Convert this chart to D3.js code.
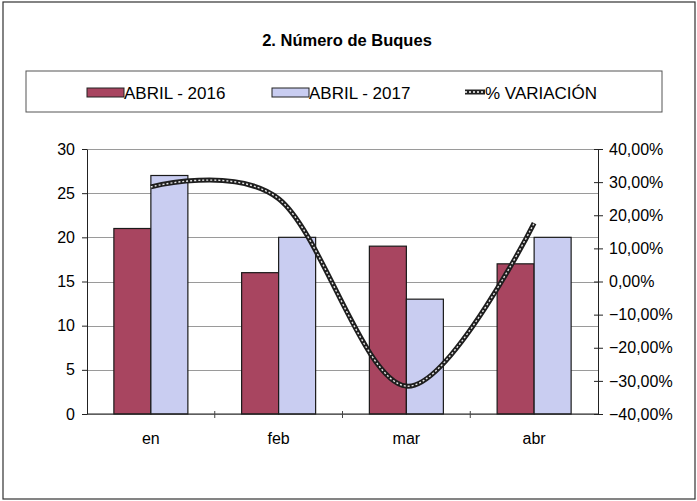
<!DOCTYPE html>
<html>
<head>
<meta charset="utf-8">
<style>
  body { margin: 0; background: #fff; }
  svg text { font-family: "Liberation Sans", Arial, sans-serif; fill: #000; }
  .grid line { stroke: #9a9a9a; shape-rendering: crispEdges; }
  .grid path { display: none; }
</style>
<script src="https://d3js.org/d3.v7.min.js"></script>
</head>
<body>
<script>
// data
var months = ["en", "feb", "mar", "abr"];
var abril2016 = [21, 16, 19, 17];
var abril2017 = [27, 20, 13, 20];
var variacion = [28.57, 25.00, -31.58, 17.65];
var leftTicks = [0, 5, 10, 15, 20, 25, 30];
var rightTicks = [-40, -30, -20, -10, 0, 10, 20, 30, 40];

var W = 697, H = 501;
var plot = {left: 87, right: 598, top: 149, bottom: 414};

var svg = d3.select("body").append("svg")
  .attr("width", W).attr("height", H);

// outer frame
svg.append("rect")
  .attr("x", 3).attr("y", 2).attr("width", 692).attr("height", 497)
  .attr("fill", "#fff").attr("stroke", "#333").attr("stroke-width", 1.2);

svg.append("text")
  .attr("x", 347).attr("y", 46)
  .attr("text-anchor", "middle")
  .style("font-size", "16.5px").style("font-weight", "bold")
  .text("2. Número de Buques");

// legend
var leg = svg.append("g");
leg.append("rect")
  .attr("x", 26).attr("y", 71).attr("width", 636).attr("height", 41)
  .attr("fill", "#fff").attr("stroke", "#555").attr("stroke-width", 1);

var legItems = [
  {label: "ABRIL - 2016", type: "bar", color: "#a84560", x: 87},
  {label: "ABRIL - 2017", type: "bar", color: "#c9cdf1", x: 272},
  {label: "% VARIACIÓN", type: "line", x: 465}
];
legItems.forEach(function(d) {
  if (d.type == "bar") {
    leg.append("rect")
      .attr("x", d.x).attr("y", 88).attr("width", 37).attr("height", 9)
      .attr("fill", d.color).attr("stroke", "#222").attr("stroke-width", 1);
  } else {
    leg.append("line").attr("x1", d.x).attr("x2", d.x + 20).attr("y1", 92).attr("y2", 92)
      .attr("stroke", "#222").attr("stroke-width", 5);
    leg.append("line").attr("x1", d.x).attr("x2", d.x + 20).attr("y1", 92).attr("y2", 92)
      .attr("stroke", "#fff").attr("stroke-width", 1.4).attr("stroke-dasharray", "2,2");
  }
  leg.append("text")
    .attr("x", d.x + (d.type == "bar" ? 37 : 20)).attr("y", 99)
    .style("font-size", "17px")
    .text(d.label);
});

// scales
var x = d3.scaleBand().domain(months).range([plot.left, plot.right]);
var y = d3.scaleLinear().domain([0, 30]).range([plot.bottom, plot.top]);
var y2 = d3.scaleLinear().domain([-40, 40]).range([plot.bottom, plot.top]);
var barW = 37;

// gridlines
svg.append("g").attr("class", "grid")
  .attr("transform", "translate(" + plot.left + ",0)")
  .call(d3.axisLeft(y).tickValues(leftTicks).tickSize(-(plot.right - plot.left)).tickFormat(""));

// bars
svg.append("g").selectAll("rect")
  .data(abril2016).enter().append("rect")
  .attr("x", function(d, i) { return x(months[i]) + x.bandwidth() / 2 - barW; })
  .attr("y", function(d) { return y(d); })
  .attr("width", barW)
  .attr("height", function(d) { return y(0) - y(d); })
  .attr("fill", "#a84560").attr("stroke", "#1a1a1a").attr("stroke-width", 1.2);

svg.append("g").selectAll("rect")
  .data(abril2017).enter().append("rect")
  .attr("x", function(d, i) { return x(months[i]) + x.bandwidth() / 2; })
  .attr("y", function(d) { return y(d); })
  .attr("width", barW)
  .attr("height", function(d) { return y(0) - y(d); })
  .attr("fill", "#c9cdf1").attr("stroke", "#1a1a1a").attr("stroke-width", 1.2);

// left axis
var ax = svg.append("g")
  .attr("transform", "translate(" + plot.left + ",0)")
  .call(d3.axisLeft(y).tickValues(leftTicks).tickSize(5).tickSizeOuter(0));
ax.selectAll("text").style("font-size", "16px").attr("x", -12);
ax.selectAll("line, path").attr("stroke", "#222");

// right axis
var ax2 = svg.append("g")
  .attr("transform", "translate(" + plot.right + ",0)")
  .call(d3.axisRight(y2).tickValues(rightTicks).tickSizeInner(5).tickSizeOuter(0)
    .tickFormat(function(d) { return d3.format(".2f")(d).replace(".", ",") + "%"; }));
ax2.selectAll(".tick line").attr("x1", -4);
ax2.selectAll("text").style("font-size", "16px").attr("x", 11);
ax2.selectAll("line, path").attr("stroke", "#222");

// bottom axis
var bx = svg.append("g")
  .attr("transform", "translate(0," + plot.bottom + ")");
bx.append("line").attr("x1", plot.left).attr("x2", plot.right).attr("stroke", "#222");
bx.selectAll("line.tk").data(months.slice(1)).enter().append("line")
  .attr("class", "tk")
  .attr("x1", function(d) { return x(d); }).attr("x2", function(d) { return x(d); })
  .attr("y1", -3).attr("y2", 4).attr("stroke", "#444");
bx.selectAll("text").data(months).enter().append("text")
  .attr("x", function(d) { return x(d) + x.bandwidth() / 2; })
  .attr("y", 30)
  .attr("text-anchor", "middle")
  .style("font-size", "16px")
  .text(function(d) { return d; });

// variation line
var line = d3.line()
  .x(function(d, i) { return x(months[i]) + x.bandwidth() / 2; })
  .y(function(d) { return y2(d); })
  .curve(d3.curveCardinal.tension(0));

svg.append("path").datum(variacion)
  .attr("d", line).attr("fill", "none")
  .attr("stroke", "#1e1e1e").attr("stroke-width", 5);
svg.append("path").datum(variacion)
  .attr("d", line).attr("fill", "none")
  .attr("stroke", "#e8e8e8").attr("stroke-width", 1.4).attr("stroke-dasharray", "2,2");
</script>
</body>
</html>
